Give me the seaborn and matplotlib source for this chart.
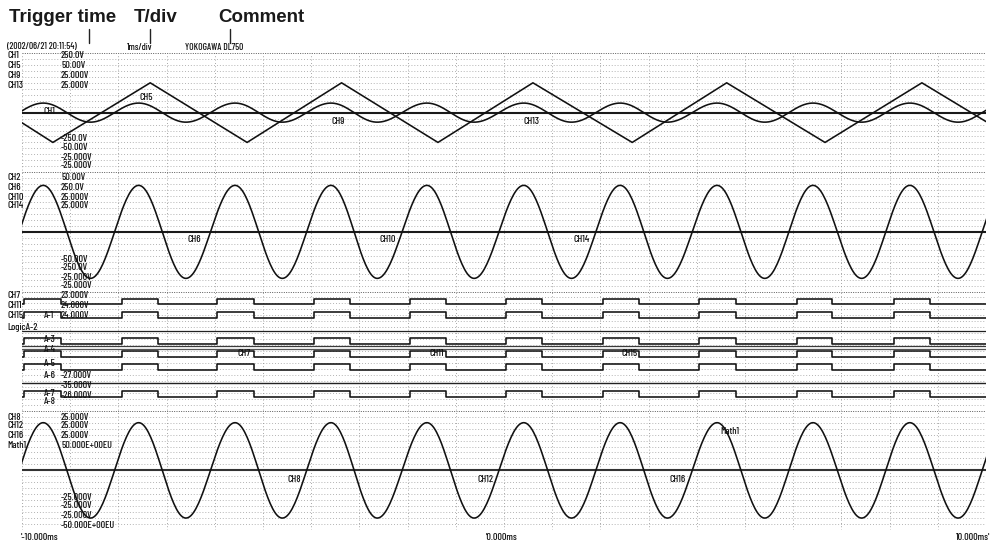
import numpy as np
import pandas as pd
import matplotlib
matplotlib.use("Agg")
import matplotlib.pyplot as plt
from matplotlib.lines import Line2D
import seaborn as sns

# ---------------------------------------------------------------- data
# time axis of the record (ms), 1 ms/div
time_span_ms = [-10.0, 10.0]
grid_ms = list(range(-10, 11))

# extrema of the 500 Hz sine recorded on every analog group (ms)
sine_peaks_ms = [-9.56, -7.58, -5.58, -3.59, -1.60, 0.41, 2.41, 4.42, 6.41, 8.42, 10.42]
sine_troughs_ms = [-10.56, -8.58, -6.60, -4.60, -2.63, -0.62, 1.40, 3.39, 5.41, 7.42, 9.42]

# sine amplitudes in grid lines (group 1 small trace, group 2, group 4)
ch1_amp = 1.6
ch2_amp = 7.8
ch8_amp = 8.0

# CH5 triangle wave: vertex times (ms) and levels (grid lines)
tri_vertex_ms = [-10.0, -9.36, -7.34, -5.33, -3.37, -1.37, 0.60, 2.66, 4.62, 6.66, 8.67, 10.0]
tri_vertex_lvl = [-1.7, -5.0, 5.0, -5.0, 5.0, -5.0, 5.0, -5.0, 5.0, -5.0, 5.0, -1.5]

# logic / pulse channels: rising and falling edges (ms)
logic_rise_ms = [-9.95, -7.93, -5.95, -3.94, -1.95, 0.04, 2.05, 4.05, 6.08, 8.09]
logic_fall_ms = [-9.20, -7.18, -5.19, -3.20, -1.20, 0.79, 2.80, 4.81, 6.80, 8.84]

# header and scale texts
header_texts = ["(2002/06/21 20:11:54)", "1ms/div", "YOKOGAWA DL750"]
callouts = ["Trigger time", "T/div", "Comment"]
group1_names = ["CH1", "CH5", "CH9", "CH13"]
group1_top = ["250.0V", "50.00V", "25.000V", "25.000V"]
group1_bottom = ["-250.0V", "-50.00V", "-25.000V", "-25.000V"]
group2_names = ["CH2", "CH6", "CH10", "CH14"]
group2_top = ["50.00V", "250.0V", "25.000V", "25.000V"]
group2_bottom = ["-50.00V", "-250.0V", "-25.000V", "-25.000V"]
group4_names = ["CH8", "CH12", "CH16", "Math1"]
group4_top = ["25.000V", "25.000V", "25.000V", "50.000E+00EU"]
group4_bottom = ["-25.000V", "-25.000V", "-25.000V", "-50.000E+00EU"]
time_labels = ["-10.000ms", "0.000ms", "10.000ms"]

# ---------------------------------------------------------------- layout
W, H = 992, 548
PANEL_ZERO = {"g1": 70, "g2": 50, "g4": 10}       # zero line of each group (grid lines)
LOGIC_ROWS = [(38.67, 37.83), (36.49, 35.49), (32.16, 31.21),
              (30.08, 28.98), (27.85, 26.85), (23.37, 22.37)]
LOGIC_FLAT = [(33.39, 0.9, "#222222"), (30.79, 0.9, "#3a3a3a"),
              (30.40, 0.9, "#555555"), (24.61, 1.0, "#222222")]

sns.set_theme(style="white")
plt.rcParams["font.family"] = ["DejaVu Sans"]
SMALL = dict(family=["Barlow Condensed", "DejaVu Sans"], fontsize=7.2,
             fontweight="medium", color="#111111")

fig = plt.figure(figsize=(W / 100, H / 100), dpi=100)
fig.patch.set_facecolor("white")
ax = fig.add_axes([22 / W, 18 / H, 964 / W, 477 / H])
ax.set_xlim(*time_span_ms)
ax.set_ylim(0, 80)
ax.set_axis_off()

# dotted screen grid
for gy in range(0, 81):
    major = gy % 20 == 0
    ax.axhline(gy, color="#5a5a5a" if major else "#9a9a9a", lw=0.7 if major else 0.55,
               dashes=(1.0, 1.4) if major else (1.2, 2.6), zorder=1)
for gx in grid_ms:
    ax.axvline(gx, color="#8a8a8a", lw=0.6, dashes=(1.0, 3.0), zorder=1)


def sine_trace(amp):
    ext = sorted([(t, 1.0) for t in sine_peaks_ms] + [(t, -1.0) for t in sine_troughs_ms])
    ts, vs = [], []
    for (t0, v0), (t1, v1) in zip(ext[:-1], ext[1:]):
        s = np.linspace(0, 1, 40)
        ts.append(t0 + (t1 - t0) * s)
        vs.append(v0 + (v1 - v0) * (1 - np.cos(np.pi * s)) / 2)
    return pd.DataFrame({"t": np.concatenate(ts), "v": amp * np.concatenate(vs)})


def line(x, y, lw=1.15, color="#111111", **kw):
    sns.lineplot(x=x, y=y, ax=ax, estimator=None, sort=False, color=color,
                 lw=lw, legend=False, zorder=3, **kw)


# group 1: CH1 sine, CH5 triangle, CH9/CH13 at zero
z = PANEL_ZERO["g1"]
line(time_span_ms, [z, z], lw=1.5, color="#1a1a1a")
d = sine_trace(ch1_amp)
line(d["t"], d["v"] + z)
line(tri_vertex_ms, [v + z for v in tri_vertex_lvl])

# group 2
z = PANEL_ZERO["g2"]
line(time_span_ms, [z, z], lw=1.5, color="#1a1a1a")
d = sine_trace(ch2_amp)
line(d["t"], d["v"] + z)

# group 4
z = PANEL_ZERO["g4"]
line(time_span_ms, [z, z], lw=1.5, color="#333333")
d = sine_trace(ch8_amp)
line(d["t"], d["v"] + z)

# group 3: pulse channels
edges = sorted([(t, 1) for t in logic_rise_ms] + [(t, 0) for t in logic_fall_ms])
for hi, lo in LOGIC_ROWS:
    xs = [time_span_ms[0]] + [t for t, _ in edges] + [time_span_ms[1]]
    ys = [lo] + [hi if s else lo for _, s in edges]
    ys.append(ys[-1])
    line(xs, ys, lw=1.15, drawstyle="steps-post")
for lvl, lw, col in LOGIC_FLAT:
    line(time_span_ms, [lvl, lvl], lw=lw, color=col)


# ---------------------------------------------------------------- texts
def put(s, x, y, ha="left", **kw):
    style = dict(SMALL)
    style.update(kw)
    fig.text(x / W, 1 - y / H, s, ha=ha, va="center", **style)


for s, x in zip(callouts, [9, 134, 218]):
    fig.text(x / W, 1 - 17 / H, s, ha="left", va="center", fontsize=13.5,
             fontweight="bold", family=["Liberation Sans", "DejaVu Sans"], color="#1a1a1a")
for x in [89, 150, 230]:
    fig.add_artist(Line2D([x / W, x / W], [1 - 29 / H, 1 - 43 / H], color="#222222", lw=1.0))

for s, x in zip(header_texts, [7, 127, 185]):
    put(s, x, 47, fontsize=6.8)

for names, tops, bottoms, ytop, ybot in [
        (group1_names, group1_top, group1_bottom, [56, 66, 76, 86], [139, 148, 157, 166]),
        (group2_names, group2_top, group2_bottom, [177, 187, 197, 206], [259, 268, 277, 286]),
        (group4_names, group4_top, group4_bottom, [417, 426, 435, 445], [497, 506, 515, 525])]:
    for n, v, y in zip(names, tops, ytop):
        put(n, 7, y)
        put(v, 61, y)
    for v, y in zip(bottoms, ybot):
        put(v, 61, y)

# pulse group scale texts
put("CH7", 7, 295); put("23.000V", 61, 295)
put("CH11", 7, 305); put("24.000V", 61, 305)
put("CH15", 7, 315); put("A-1", 44, 315); put("24.000V", 61, 315)
put("LogicA-2", 7, 327)
put("A-3", 44, 340)
put("A-4", 44, 350)
put("A-5", 44, 364)
put("A-6", 44, 376); put("-27.000V", 61, 376)
put("-35.000V", 61, 385)
put("A-7", 44, 393); put("-26.000V", 61, 395)
put("A-8", 44, 402)

# trace markers
for s, x, y in [("CH5", 140, 97), ("CH1", 43, 111), ("CH9", 331, 121), ("CH13", 523, 121),
                ("CH6", 188, 240), ("CH10", 380, 240), ("CH14", 573, 240),
                ("CH7", 237, 353), ("CH11", 430, 354), ("CH15", 622, 354),
                ("CH8", 287, 479), ("CH12", 478, 479), ("CH16", 670, 479),
                ("Math1", 720, 432)]:
    put(s, x, y)

# time stamps along the bottom
put("'" + time_labels[0], 21, 537)
put("'" + time_labels[1], 486, 537)
put(time_labels[2] + "'", 990, 537, ha="right")

fig.savefig("out.png", dpi=100, facecolor="white")
